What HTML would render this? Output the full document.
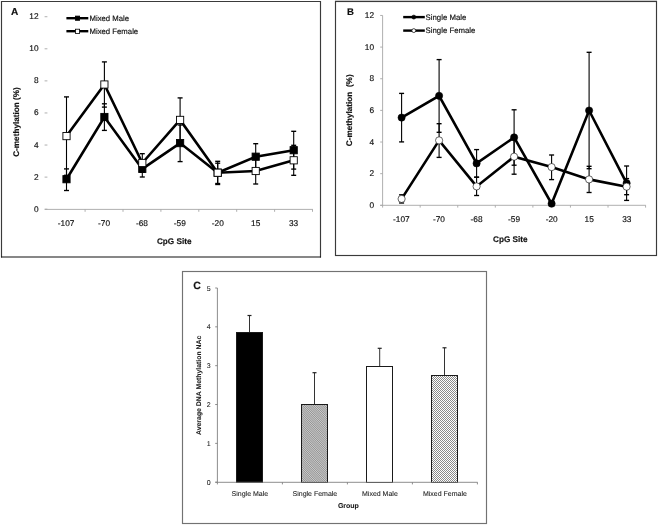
<!DOCTYPE html>
<html><head><meta charset="utf-8"><title>Figure</title>
<style>
html,body{margin:0;padding:0;background:#fff;}
body{width:658px;height:525px;overflow:hidden;}
svg{display:block;will-change:transform;}
svg text{font-family:"Liberation Sans", sans-serif;text-rendering:geometricPrecision;fill:#111;stroke:#111;stroke-width:0.16px;}
svg text.s{fill:#1a1a1a;stroke:#1a1a1a;stroke-width:0.08px;}
</style></head>
<body>
<svg width="658" height="525" viewBox="0 0 658 525">
<defs>
<pattern id="hatch" patternUnits="userSpaceOnUse" width="1.56" height="8" patternTransform="rotate(-45)">
<rect width="1.56" height="8" fill="#cdcdcd"/>
<rect width="0.72" height="8" fill="#8c8c8c"/>
</pattern>
<pattern id="cross" patternUnits="userSpaceOnUse" width="2" height="2">
<rect width="2" height="2" fill="#fff"/>
<rect width="1" height="1" fill="#8a8a8a"/>
<rect x="1" y="1" width="1" height="1" fill="#8a8a8a"/>
</pattern>
</defs>
<rect width="658" height="525" fill="#fff"/>
<path d="M1.5,257.5 V1.5 H320.5 V257.5" fill="none" stroke="#3a3a3a" stroke-width="1.15"/>
<line x1="1" y1="257" x2="321" y2="257" stroke="#111" stroke-width="1.05"/>
<text x="11.0" y="15.2" font-size="10.1" font-weight="bold">A</text>
<line x1="44.6" y1="209.20" x2="47.4" y2="209.20" stroke="#a6a6a6" stroke-width="0.9"/>
<text x="38.6" y="211.70" font-size="8.3" text-anchor="end">0</text>
<line x1="44.6" y1="177.12" x2="47.4" y2="177.12" stroke="#a6a6a6" stroke-width="0.9"/>
<text x="38.6" y="179.62" font-size="8.3" text-anchor="end">2</text>
<line x1="44.6" y1="145.04" x2="47.4" y2="145.04" stroke="#a6a6a6" stroke-width="0.9"/>
<text x="38.6" y="147.54" font-size="8.3" text-anchor="end">4</text>
<line x1="44.6" y1="112.96" x2="47.4" y2="112.96" stroke="#a6a6a6" stroke-width="0.9"/>
<text x="38.6" y="115.46" font-size="8.3" text-anchor="end">6</text>
<line x1="44.6" y1="80.88" x2="47.4" y2="80.88" stroke="#a6a6a6" stroke-width="0.9"/>
<text x="38.6" y="83.38" font-size="8.3" text-anchor="end">8</text>
<line x1="44.6" y1="48.80" x2="47.4" y2="48.80" stroke="#a6a6a6" stroke-width="0.9"/>
<text x="38.6" y="51.30" font-size="8.3" text-anchor="end">10</text>
<line x1="44.6" y1="16.72" x2="47.4" y2="16.72" stroke="#a6a6a6" stroke-width="0.9"/>
<text x="38.6" y="19.22" font-size="8.3" text-anchor="end">12</text>
<line x1="44.8" y1="209.4" x2="312.9" y2="209.4" stroke="#a6a6a6" stroke-width="0.9"/>
<line x1="85.10" y1="209.4" x2="85.10" y2="211.8" stroke="#a6a6a6" stroke-width="0.9"/>
<line x1="123.00" y1="209.4" x2="123.00" y2="211.8" stroke="#a6a6a6" stroke-width="0.9"/>
<line x1="160.90" y1="209.4" x2="160.90" y2="211.8" stroke="#a6a6a6" stroke-width="0.9"/>
<line x1="198.80" y1="209.4" x2="198.80" y2="211.8" stroke="#a6a6a6" stroke-width="0.9"/>
<line x1="236.70" y1="209.4" x2="236.70" y2="211.8" stroke="#a6a6a6" stroke-width="0.9"/>
<line x1="274.60" y1="209.4" x2="274.60" y2="211.8" stroke="#a6a6a6" stroke-width="0.9"/>
<line x1="312.50" y1="209.4" x2="312.50" y2="211.8" stroke="#a6a6a6" stroke-width="0.9"/>
<text x="66.15" y="226.1" font-size="8.3" text-anchor="middle">-107</text>
<text x="104.05" y="226.1" font-size="8.3" text-anchor="middle">-70</text>
<text x="141.95" y="226.1" font-size="8.3" text-anchor="middle">-68</text>
<text x="179.85" y="226.1" font-size="8.3" text-anchor="middle">-59</text>
<text x="217.75" y="226.1" font-size="8.3" text-anchor="middle">-20</text>
<text x="255.65" y="226.1" font-size="8.3" text-anchor="middle">15</text>
<text x="293.55" y="226.1" font-size="8.3" text-anchor="middle">33</text>
<text x="174.2" y="243.8" font-size="8.2" font-weight="bold" text-anchor="middle">CpG Site</text>
<text transform="translate(18.7,122) rotate(-90)" font-size="8.2" font-weight="bold" text-anchor="middle">C-methylation (%)</text>
<line x1="66.50" y1="168.9" x2="66.50" y2="190.5" stroke="#000" stroke-width="1.1"/>
<line x1="64.00" y1="168.9" x2="69.00" y2="168.9" stroke="#000" stroke-width="1.35"/>
<line x1="64.00" y1="190.5" x2="69.00" y2="190.5" stroke="#000" stroke-width="1.35"/>
<line x1="104.40" y1="103.8" x2="104.40" y2="130.4" stroke="#000" stroke-width="1.1"/>
<line x1="101.90" y1="103.8" x2="106.90" y2="103.8" stroke="#000" stroke-width="1.35"/>
<line x1="101.90" y1="130.4" x2="106.90" y2="130.4" stroke="#000" stroke-width="1.35"/>
<line x1="142.30" y1="161.3" x2="142.30" y2="177.0" stroke="#000" stroke-width="1.1"/>
<line x1="139.80" y1="161.3" x2="144.80" y2="161.3" stroke="#000" stroke-width="1.35"/>
<line x1="139.80" y1="177.0" x2="144.80" y2="177.0" stroke="#000" stroke-width="1.35"/>
<line x1="180.10" y1="125.0" x2="180.10" y2="161.6" stroke="#000" stroke-width="1.1"/>
<line x1="177.60" y1="125.0" x2="182.60" y2="125.0" stroke="#000" stroke-width="1.35"/>
<line x1="177.60" y1="161.6" x2="182.60" y2="161.6" stroke="#000" stroke-width="1.35"/>
<line x1="217.70" y1="163.2" x2="217.70" y2="183.5" stroke="#000" stroke-width="1.1"/>
<line x1="215.20" y1="163.2" x2="220.20" y2="163.2" stroke="#000" stroke-width="1.35"/>
<line x1="215.20" y1="183.5" x2="220.20" y2="183.5" stroke="#000" stroke-width="1.35"/>
<line x1="255.70" y1="143.7" x2="255.70" y2="169.7" stroke="#000" stroke-width="1.1"/>
<line x1="253.20" y1="143.7" x2="258.20" y2="143.7" stroke="#000" stroke-width="1.35"/>
<line x1="253.20" y1="169.7" x2="258.20" y2="169.7" stroke="#000" stroke-width="1.35"/>
<line x1="293.70" y1="131.3" x2="293.70" y2="169.1" stroke="#000" stroke-width="1.1"/>
<line x1="291.20" y1="131.3" x2="296.20" y2="131.3" stroke="#000" stroke-width="1.35"/>
<line x1="291.20" y1="169.1" x2="296.20" y2="169.1" stroke="#000" stroke-width="1.35"/>
<polyline points="66.50,179.2 104.40,117.0 142.30,168.9 180.10,143.1 217.70,172.7 255.70,156.7 293.70,150.2" fill="none" stroke="#000" stroke-width="2.6" stroke-linejoin="miter"/>
<rect x="62.90" y="175.60" width="7.2" height="7.2" fill="#000" stroke="#000" stroke-width="0.9"/>
<rect x="100.80" y="113.40" width="7.2" height="7.2" fill="#000" stroke="#000" stroke-width="0.9"/>
<rect x="138.70" y="165.30" width="7.2" height="7.2" fill="#000" stroke="#000" stroke-width="0.9"/>
<rect x="176.50" y="139.50" width="7.2" height="7.2" fill="#000" stroke="#000" stroke-width="0.9"/>
<rect x="214.10" y="169.10" width="7.2" height="7.2" fill="#000" stroke="#000" stroke-width="0.9"/>
<rect x="252.10" y="153.10" width="7.2" height="7.2" fill="#000" stroke="#000" stroke-width="0.9"/>
<rect x="290.10" y="146.60" width="7.2" height="7.2" fill="#000" stroke="#000" stroke-width="0.9"/>
<line x1="66.50" y1="96.9" x2="66.50" y2="175.3" stroke="#000" stroke-width="1.1"/>
<line x1="64.00" y1="96.9" x2="69.00" y2="96.9" stroke="#000" stroke-width="1.35"/>
<line x1="64.00" y1="175.3" x2="69.00" y2="175.3" stroke="#000" stroke-width="1.35"/>
<line x1="104.40" y1="61.9" x2="104.40" y2="107.1" stroke="#000" stroke-width="1.1"/>
<line x1="101.90" y1="61.9" x2="106.90" y2="61.9" stroke="#000" stroke-width="1.35"/>
<line x1="101.90" y1="107.1" x2="106.90" y2="107.1" stroke="#000" stroke-width="1.35"/>
<line x1="142.30" y1="153.7" x2="142.30" y2="172.3" stroke="#000" stroke-width="1.1"/>
<line x1="139.80" y1="153.7" x2="144.80" y2="153.7" stroke="#000" stroke-width="1.35"/>
<line x1="139.80" y1="172.3" x2="144.80" y2="172.3" stroke="#000" stroke-width="1.35"/>
<line x1="180.10" y1="97.9" x2="180.10" y2="141.9" stroke="#000" stroke-width="1.1"/>
<line x1="177.60" y1="97.9" x2="182.60" y2="97.9" stroke="#000" stroke-width="1.35"/>
<line x1="177.60" y1="141.9" x2="182.60" y2="141.9" stroke="#000" stroke-width="1.35"/>
<line x1="217.70" y1="161.3" x2="217.70" y2="184.5" stroke="#000" stroke-width="1.1"/>
<line x1="215.20" y1="161.3" x2="220.20" y2="161.3" stroke="#000" stroke-width="1.35"/>
<line x1="215.20" y1="184.5" x2="220.20" y2="184.5" stroke="#000" stroke-width="1.35"/>
<line x1="255.70" y1="158.0" x2="255.70" y2="184.0" stroke="#000" stroke-width="1.1"/>
<line x1="253.20" y1="158.0" x2="258.20" y2="158.0" stroke="#000" stroke-width="1.35"/>
<line x1="253.20" y1="184.0" x2="258.20" y2="184.0" stroke="#000" stroke-width="1.35"/>
<line x1="293.70" y1="145.3" x2="293.70" y2="175.3" stroke="#000" stroke-width="1.1"/>
<line x1="291.20" y1="145.3" x2="296.20" y2="145.3" stroke="#000" stroke-width="1.35"/>
<line x1="291.20" y1="175.3" x2="296.20" y2="175.3" stroke="#000" stroke-width="1.35"/>
<polyline points="66.50,136.1 104.40,84.5 142.30,163.0 180.10,119.9 217.70,172.7 255.70,171.0 293.70,160.3" fill="none" stroke="#000" stroke-width="2.6" stroke-linejoin="miter"/>
<rect x="62.90" y="132.50" width="7.2" height="7.2" fill="#fff" stroke="#000" stroke-width="0.9"/>
<rect x="100.80" y="80.90" width="7.2" height="7.2" fill="#fff" stroke="#000" stroke-width="0.9"/>
<rect x="138.70" y="159.40" width="7.2" height="7.2" fill="#fff" stroke="#000" stroke-width="0.9"/>
<rect x="176.50" y="116.30" width="7.2" height="7.2" fill="#fff" stroke="#000" stroke-width="0.9"/>
<rect x="214.10" y="169.10" width="7.2" height="7.2" fill="#fff" stroke="#000" stroke-width="0.9"/>
<rect x="252.10" y="167.40" width="7.2" height="7.2" fill="#fff" stroke="#000" stroke-width="0.9"/>
<rect x="290.10" y="156.70" width="7.2" height="7.2" fill="#fff" stroke="#000" stroke-width="0.9"/>
<line x1="66.4" y1="18.2" x2="88.3" y2="18.2" stroke="#000" stroke-width="2.4"/>
<rect x="75.4" y="16.1" width="4.2" height="4.2" fill="#000" stroke="#000" stroke-width="0.8"/>
<text x="89.5" y="20.80" font-size="7.75">Mixed Male</text>
<line x1="66.4" y1="31.2" x2="88.3" y2="31.2" stroke="#000" stroke-width="2.4"/>
<rect x="75.4" y="29.2" width="4.2" height="4.2" fill="#fff" stroke="#000" stroke-width="0.8"/>
<text x="89.5" y="33.80" font-size="7.75">Mixed Female</text>
<line x1="335" y1="0.5" x2="657" y2="0.5" stroke="#d6d6d6" stroke-width="1"/>
<rect x="335.5" y="1.5" width="321" height="254" fill="#fff" stroke="#3a3a3a" stroke-width="1.15"/>
<text x="346.9" y="14.7" font-size="9.6" font-weight="bold">B</text>
<line x1="380.2" y1="205.30" x2="382.6" y2="205.30" stroke="#a6a6a6" stroke-width="0.9"/>
<text x="374.0" y="207.90" font-size="8.3" text-anchor="end">0</text>
<line x1="380.2" y1="173.66" x2="382.6" y2="173.66" stroke="#a6a6a6" stroke-width="0.9"/>
<text x="374.0" y="176.26" font-size="8.3" text-anchor="end">2</text>
<line x1="380.2" y1="142.02" x2="382.6" y2="142.02" stroke="#a6a6a6" stroke-width="0.9"/>
<text x="374.0" y="144.62" font-size="8.3" text-anchor="end">4</text>
<line x1="380.2" y1="110.38" x2="382.6" y2="110.38" stroke="#a6a6a6" stroke-width="0.9"/>
<text x="374.0" y="112.98" font-size="8.3" text-anchor="end">6</text>
<line x1="380.2" y1="78.74" x2="382.6" y2="78.74" stroke="#a6a6a6" stroke-width="0.9"/>
<text x="374.0" y="81.34" font-size="8.3" text-anchor="end">8</text>
<line x1="380.2" y1="47.10" x2="382.6" y2="47.10" stroke="#a6a6a6" stroke-width="0.9"/>
<text x="374.0" y="49.70" font-size="8.3" text-anchor="end">10</text>
<line x1="380.2" y1="15.46" x2="382.6" y2="15.46" stroke="#a6a6a6" stroke-width="0.9"/>
<text x="374.0" y="18.06" font-size="8.3" text-anchor="end">12</text>
<line x1="382.6" y1="15.46" x2="382.6" y2="205.3" stroke="#a6a6a6" stroke-width="0.9"/>
<line x1="380.2" y1="205.3" x2="645.8" y2="205.3" stroke="#a6a6a6" stroke-width="0.9"/>
<line x1="382.60" y1="205.3" x2="382.60" y2="207.6" stroke="#a6a6a6" stroke-width="0.9"/>
<line x1="420.17" y1="205.3" x2="420.17" y2="207.6" stroke="#a6a6a6" stroke-width="0.9"/>
<line x1="457.74" y1="205.3" x2="457.74" y2="207.6" stroke="#a6a6a6" stroke-width="0.9"/>
<line x1="495.31" y1="205.3" x2="495.31" y2="207.6" stroke="#a6a6a6" stroke-width="0.9"/>
<line x1="532.88" y1="205.3" x2="532.88" y2="207.6" stroke="#a6a6a6" stroke-width="0.9"/>
<line x1="570.45" y1="205.3" x2="570.45" y2="207.6" stroke="#a6a6a6" stroke-width="0.9"/>
<line x1="608.02" y1="205.3" x2="608.02" y2="207.6" stroke="#a6a6a6" stroke-width="0.9"/>
<line x1="645.59" y1="205.3" x2="645.59" y2="207.6" stroke="#a6a6a6" stroke-width="0.9"/>
<text x="401.39" y="222.1" font-size="8.3" text-anchor="middle">-107</text>
<text x="438.96" y="222.1" font-size="8.3" text-anchor="middle">-70</text>
<text x="476.53" y="222.1" font-size="8.3" text-anchor="middle">-68</text>
<text x="514.10" y="222.1" font-size="8.3" text-anchor="middle">-59</text>
<text x="551.66" y="222.1" font-size="8.3" text-anchor="middle">-20</text>
<text x="589.24" y="222.1" font-size="8.3" text-anchor="middle">15</text>
<text x="626.81" y="222.1" font-size="8.3" text-anchor="middle">33</text>
<text x="510.3" y="242.0" font-size="8.2" font-weight="bold" text-anchor="middle">CpG Site</text>
<text transform="translate(352.1,110.3) rotate(-90)" font-size="8.2" font-weight="bold" text-anchor="middle" xml:space="preserve">C-methylation  (%)</text>
<line x1="401.60" y1="93.4" x2="401.60" y2="141.9" stroke="#000" stroke-width="1.1"/>
<line x1="399.10" y1="93.4" x2="404.10" y2="93.4" stroke="#000" stroke-width="1.35"/>
<line x1="399.10" y1="141.9" x2="404.10" y2="141.9" stroke="#000" stroke-width="1.35"/>
<line x1="439.10" y1="59.6" x2="439.10" y2="132.3" stroke="#000" stroke-width="1.1"/>
<line x1="436.60" y1="59.6" x2="441.60" y2="59.6" stroke="#000" stroke-width="1.35"/>
<line x1="436.60" y1="132.3" x2="441.60" y2="132.3" stroke="#000" stroke-width="1.35"/>
<line x1="476.60" y1="149.6" x2="476.60" y2="177.2" stroke="#000" stroke-width="1.1"/>
<line x1="474.10" y1="149.6" x2="479.10" y2="149.6" stroke="#000" stroke-width="1.35"/>
<line x1="474.10" y1="177.2" x2="479.10" y2="177.2" stroke="#000" stroke-width="1.35"/>
<line x1="514.10" y1="109.8" x2="514.10" y2="165.2" stroke="#000" stroke-width="1.1"/>
<line x1="511.60" y1="109.8" x2="516.60" y2="109.8" stroke="#000" stroke-width="1.35"/>
<line x1="511.60" y1="165.2" x2="516.60" y2="165.2" stroke="#000" stroke-width="1.35"/>
<line x1="551.60" y1="203.0" x2="551.60" y2="204.4" stroke="#000" stroke-width="1.1"/>
<line x1="549.10" y1="203.0" x2="554.10" y2="203.0" stroke="#000" stroke-width="1.35"/>
<line x1="549.10" y1="204.4" x2="554.10" y2="204.4" stroke="#000" stroke-width="1.35"/>
<line x1="589.10" y1="52.3" x2="589.10" y2="168.7" stroke="#000" stroke-width="1.1"/>
<line x1="586.60" y1="52.3" x2="591.60" y2="52.3" stroke="#000" stroke-width="1.35"/>
<line x1="586.60" y1="168.7" x2="591.60" y2="168.7" stroke="#000" stroke-width="1.35"/>
<line x1="626.60" y1="166.0" x2="626.60" y2="200.4" stroke="#000" stroke-width="1.1"/>
<line x1="624.10" y1="166.0" x2="629.10" y2="166.0" stroke="#000" stroke-width="1.35"/>
<line x1="624.10" y1="200.4" x2="629.10" y2="200.4" stroke="#000" stroke-width="1.35"/>
<polyline points="401.60,117.6 439.10,95.8 476.60,163.4 514.10,137.4 551.60,203.7 589.10,110.5 626.60,183.2" fill="none" stroke="#000" stroke-width="2.6" stroke-linejoin="miter"/>
<circle cx="401.60" cy="117.6" r="3.6" fill="#000" stroke="#000" stroke-width="0.6"/>
<circle cx="439.10" cy="95.8" r="3.6" fill="#000" stroke="#000" stroke-width="0.6"/>
<circle cx="476.60" cy="163.4" r="3.6" fill="#000" stroke="#000" stroke-width="0.6"/>
<circle cx="514.10" cy="137.4" r="3.6" fill="#000" stroke="#000" stroke-width="0.6"/>
<circle cx="551.60" cy="203.7" r="3.6" fill="#000" stroke="#000" stroke-width="0.6"/>
<circle cx="589.10" cy="110.5" r="3.6" fill="#000" stroke="#000" stroke-width="0.6"/>
<circle cx="626.60" cy="183.2" r="3.6" fill="#000" stroke="#000" stroke-width="0.6"/>
<line x1="401.60" y1="194.8" x2="401.60" y2="203.0" stroke="#000" stroke-width="1.1"/>
<line x1="399.10" y1="194.8" x2="404.10" y2="194.8" stroke="#000" stroke-width="1.35"/>
<line x1="399.10" y1="203.0" x2="404.10" y2="203.0" stroke="#000" stroke-width="1.35"/>
<line x1="439.10" y1="123.7" x2="439.10" y2="157.4" stroke="#000" stroke-width="1.1"/>
<line x1="436.60" y1="123.7" x2="441.60" y2="123.7" stroke="#000" stroke-width="1.35"/>
<line x1="436.60" y1="157.4" x2="441.60" y2="157.4" stroke="#000" stroke-width="1.35"/>
<line x1="476.60" y1="177.2" x2="476.60" y2="195.5" stroke="#000" stroke-width="1.1"/>
<line x1="474.10" y1="177.2" x2="479.10" y2="177.2" stroke="#000" stroke-width="1.35"/>
<line x1="474.10" y1="195.5" x2="479.10" y2="195.5" stroke="#000" stroke-width="1.35"/>
<line x1="514.10" y1="139.1" x2="514.10" y2="174.2" stroke="#000" stroke-width="1.1"/>
<line x1="511.60" y1="139.1" x2="516.60" y2="139.1" stroke="#000" stroke-width="1.35"/>
<line x1="511.60" y1="174.2" x2="516.60" y2="174.2" stroke="#000" stroke-width="1.35"/>
<line x1="551.60" y1="155.0" x2="551.60" y2="179.6" stroke="#000" stroke-width="1.1"/>
<line x1="549.10" y1="155.0" x2="554.10" y2="155.0" stroke="#000" stroke-width="1.35"/>
<line x1="549.10" y1="179.6" x2="554.10" y2="179.6" stroke="#000" stroke-width="1.35"/>
<line x1="589.10" y1="166.3" x2="589.10" y2="192.5" stroke="#000" stroke-width="1.1"/>
<line x1="586.60" y1="166.3" x2="591.60" y2="166.3" stroke="#000" stroke-width="1.35"/>
<line x1="586.60" y1="192.5" x2="591.60" y2="192.5" stroke="#000" stroke-width="1.35"/>
<line x1="626.60" y1="178.6" x2="626.60" y2="194.7" stroke="#000" stroke-width="1.1"/>
<line x1="624.10" y1="178.6" x2="629.10" y2="178.6" stroke="#000" stroke-width="1.35"/>
<line x1="624.10" y1="194.7" x2="629.10" y2="194.7" stroke="#000" stroke-width="1.35"/>
<polyline points="401.60,198.9 439.10,140.4 476.60,186.4 514.10,156.7 551.60,167.1 589.10,179.4 626.60,186.7" fill="none" stroke="#000" stroke-width="2.6" stroke-linejoin="miter"/>
<circle cx="401.60" cy="198.9" r="3.6" fill="#fff" stroke="#000" stroke-width="0.6"/>
<circle cx="439.10" cy="140.4" r="3.6" fill="#fff" stroke="#000" stroke-width="0.6"/>
<circle cx="476.60" cy="186.4" r="3.6" fill="#fff" stroke="#000" stroke-width="0.6"/>
<circle cx="514.10" cy="156.7" r="3.6" fill="#fff" stroke="#000" stroke-width="0.6"/>
<circle cx="551.60" cy="167.1" r="3.6" fill="#fff" stroke="#000" stroke-width="0.6"/>
<circle cx="589.10" cy="179.4" r="3.6" fill="#fff" stroke="#000" stroke-width="0.6"/>
<circle cx="626.60" cy="186.7" r="3.6" fill="#fff" stroke="#000" stroke-width="0.6"/>
<line x1="403.2" y1="17.1" x2="424.8" y2="17.1" stroke="#000" stroke-width="2.4"/>
<circle cx="413.8" cy="17.1" r="1.95" fill="#000" stroke="#000" stroke-width="0.7"/>
<text x="425.6" y="19.60" font-size="7.8">Single Male</text>
<line x1="403.2" y1="30.6" x2="424.8" y2="30.6" stroke="#000" stroke-width="2.4"/>
<circle cx="413.8" cy="30.6" r="1.95" fill="#fff" stroke="#000" stroke-width="0.7"/>
<text x="425.6" y="33.10" font-size="7.8">Single Female</text>
<rect x="182.5" y="271.5" width="304" height="252" fill="#fff" stroke="#727272" stroke-width="1.15"/>
<text x="193.3" y="288.7" font-size="10.5" font-weight="bold">C</text>
<line x1="215.2" y1="482.20" x2="217.4" y2="482.20" stroke="#808080" stroke-width="0.9"/>
<text class="s" x="210.6" y="484.70" font-size="7" text-anchor="end">0</text>
<line x1="215.2" y1="443.36" x2="217.4" y2="443.36" stroke="#808080" stroke-width="0.9"/>
<text class="s" x="210.6" y="445.86" font-size="7" text-anchor="end">1</text>
<line x1="215.2" y1="404.52" x2="217.4" y2="404.52" stroke="#808080" stroke-width="0.9"/>
<text class="s" x="210.6" y="407.02" font-size="7" text-anchor="end">2</text>
<line x1="215.2" y1="365.68" x2="217.4" y2="365.68" stroke="#808080" stroke-width="0.9"/>
<text class="s" x="210.6" y="368.18" font-size="7" text-anchor="end">3</text>
<line x1="215.2" y1="326.84" x2="217.4" y2="326.84" stroke="#808080" stroke-width="0.9"/>
<text class="s" x="210.6" y="329.34" font-size="7" text-anchor="end">4</text>
<line x1="215.2" y1="288.00" x2="217.4" y2="288.00" stroke="#808080" stroke-width="0.9"/>
<text class="s" x="210.6" y="290.50" font-size="7" text-anchor="end">5</text>
<line x1="217.4" y1="288.00" x2="217.4" y2="482.2" stroke="#808080" stroke-width="0.9"/>
<line x1="249.50" y1="315.5" x2="249.50" y2="332.5" stroke="#333" stroke-width="1"/>
<line x1="247.50" y1="315.5" x2="251.50" y2="315.5" stroke="#222" stroke-width="1.2"/>
<rect x="236.50" y="332.5" width="26.0" height="150.00" fill="#000" stroke="#1a1a1a" stroke-width="1"/>
<line x1="314.50" y1="372.7" x2="314.50" y2="404.5" stroke="#333" stroke-width="1"/>
<line x1="312.50" y1="372.7" x2="316.50" y2="372.7" stroke="#222" stroke-width="1.2"/>
<rect x="301.50" y="404.5" width="26.0" height="78.00" fill="url(#hatch)" stroke="#1a1a1a" stroke-width="1"/>
<line x1="379.70" y1="348.3" x2="379.70" y2="366.5" stroke="#333" stroke-width="1"/>
<line x1="377.70" y1="348.3" x2="381.70" y2="348.3" stroke="#222" stroke-width="1.2"/>
<rect x="366.50" y="366.5" width="26.0" height="116.00" fill="#fff" stroke="#1a1a1a" stroke-width="1"/>
<line x1="444.50" y1="347.8" x2="444.50" y2="375.5" stroke="#333" stroke-width="1"/>
<line x1="442.50" y1="347.8" x2="446.50" y2="347.8" stroke="#222" stroke-width="1.2"/>
<rect x="431.50" y="375.5" width="26.0" height="107.00" fill="url(#cross)" stroke="#1a1a1a" stroke-width="1"/>
<line x1="215.4" y1="482.3" x2="477.6" y2="482.3" stroke="#808080" stroke-width="0.9"/>
<line x1="217.40" y1="482.3" x2="217.40" y2="484.4" stroke="#808080" stroke-width="0.9"/>
<line x1="282.40" y1="482.3" x2="282.40" y2="484.4" stroke="#808080" stroke-width="0.9"/>
<line x1="347.40" y1="482.3" x2="347.40" y2="484.4" stroke="#808080" stroke-width="0.9"/>
<line x1="412.40" y1="482.3" x2="412.40" y2="484.4" stroke="#808080" stroke-width="0.9"/>
<line x1="477.40" y1="482.3" x2="477.40" y2="484.4" stroke="#808080" stroke-width="0.9"/>
<text class="s" x="249.90" y="496.0" font-size="7" text-anchor="middle">Single Male</text>
<text class="s" x="314.90" y="496.0" font-size="7" text-anchor="middle">Single Female</text>
<text class="s" x="379.90" y="496.0" font-size="7" text-anchor="middle">Mixed Male</text>
<text class="s" x="444.90" y="496.0" font-size="7" text-anchor="middle">Mixed Female</text>
<text class="s" x="348.4" y="508.1" font-size="7" font-weight="bold" text-anchor="middle">Group</text>
<text class="s" transform="translate(200.6,385.3) rotate(-90)" font-size="6.9" font-weight="bold" text-anchor="middle">Average DNA Methylation NAc</text>
</svg>
</body></html>
